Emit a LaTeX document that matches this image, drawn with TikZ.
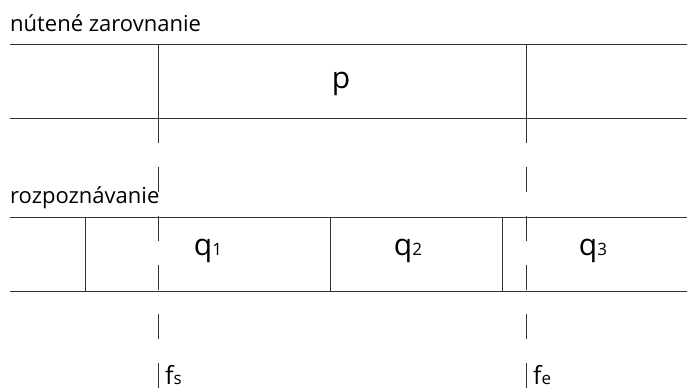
\documentclass[tikz,border=0pt]{standalone}
\usepackage{fontspec}
\setmainfont{Open Sans}

\begin{document}
\begin{tikzpicture}[x=1pt, y=-1pt,
    rule/.style={draw, line width=1pt, black!80},
    cut/.style={draw, line width=1pt, black!80, dash pattern=on 25pt off 24pt},
    title/.style={anchor=base west, inner sep=0pt, font=\fontsize{22}{26}\selectfont},
    seg/.style={anchor=base, inner sep=0pt, font=\fontsize{30}{34}\selectfont},
    frame/.style={anchor=base west, inner sep=0pt, font=\fontsize{25}{29}\selectfont}
]
\useasboundingbox (0,0) rectangle (687,389);

% Forced alignment
\node[title] (forced) at (10,31) {nútené zarovnanie};
\coordinate (fa_tl) at (10,44);
\coordinate (fa_tr) at (687,44);
\coordinate (fa_bl) at (10,118);
\coordinate (fa_br) at (687,118);
\draw[rule] (fa_tl) -- (fa_tr);
\draw[rule] (fa_bl) -- (fa_br);

% Forced word p
\coordinate (p_s) at (158,44);
\coordinate (p_e) at (526,44);
\draw[rule] (p_s) -- (p_s |- fa_bl);
\draw[rule] (p_e) -- (p_e |- fa_bl);
\node[seg] (p) at (341,88) {p};

% Recognition
\node[title] (recog) at (10,203) {rozpoznávanie};
\coordinate (rc_tl) at (10,217);
\coordinate (rc_tr) at (687,217);
\coordinate (rc_bl) at (10,291);
\coordinate (rc_br) at (687,291);
\draw[rule] (rc_tl) -- (rc_tr);
\draw[rule] (rc_bl) -- (rc_br);

% Recognized segments
\coordinate (r0) at (85,217);
\coordinate (r1) at (330,217);
\coordinate (r2) at (502,217);
\draw[rule] (r0) -- (r0 |- rc_bl);
\draw[rule] (r1) -- (r1 |- rc_bl);
\draw[rule] (r2) -- (r2 |- rc_bl);
\node[seg] (q1) at (208,255) {q{\fontsize{17}{20}\selectfont 1}};
\node[seg] (q2) at (408,255) {q{\fontsize{17}{20}\selectfont 2}};
\node[seg] (q3) at (593,255) {q{\fontsize{17}{20}\selectfont 3}};

% Frame marks
\coordinate (fs_top) at (158,118);
\coordinate (fe_top) at (526,118);
\coordinate (fs_bot) at (158,389);
\coordinate (fe_bot) at (526,389);
\draw[cut] (fs_top) -- (fs_bot);
\draw[cut] (fe_top) -- (fe_bot);
\node[frame] (fs) at (165,384) {f{\fontsize{17}{20}\selectfont s}};
\node[frame] (fe) at (533,384) {f{\fontsize{17}{20}\selectfont e}};

\end{tikzpicture}
\end{document}
